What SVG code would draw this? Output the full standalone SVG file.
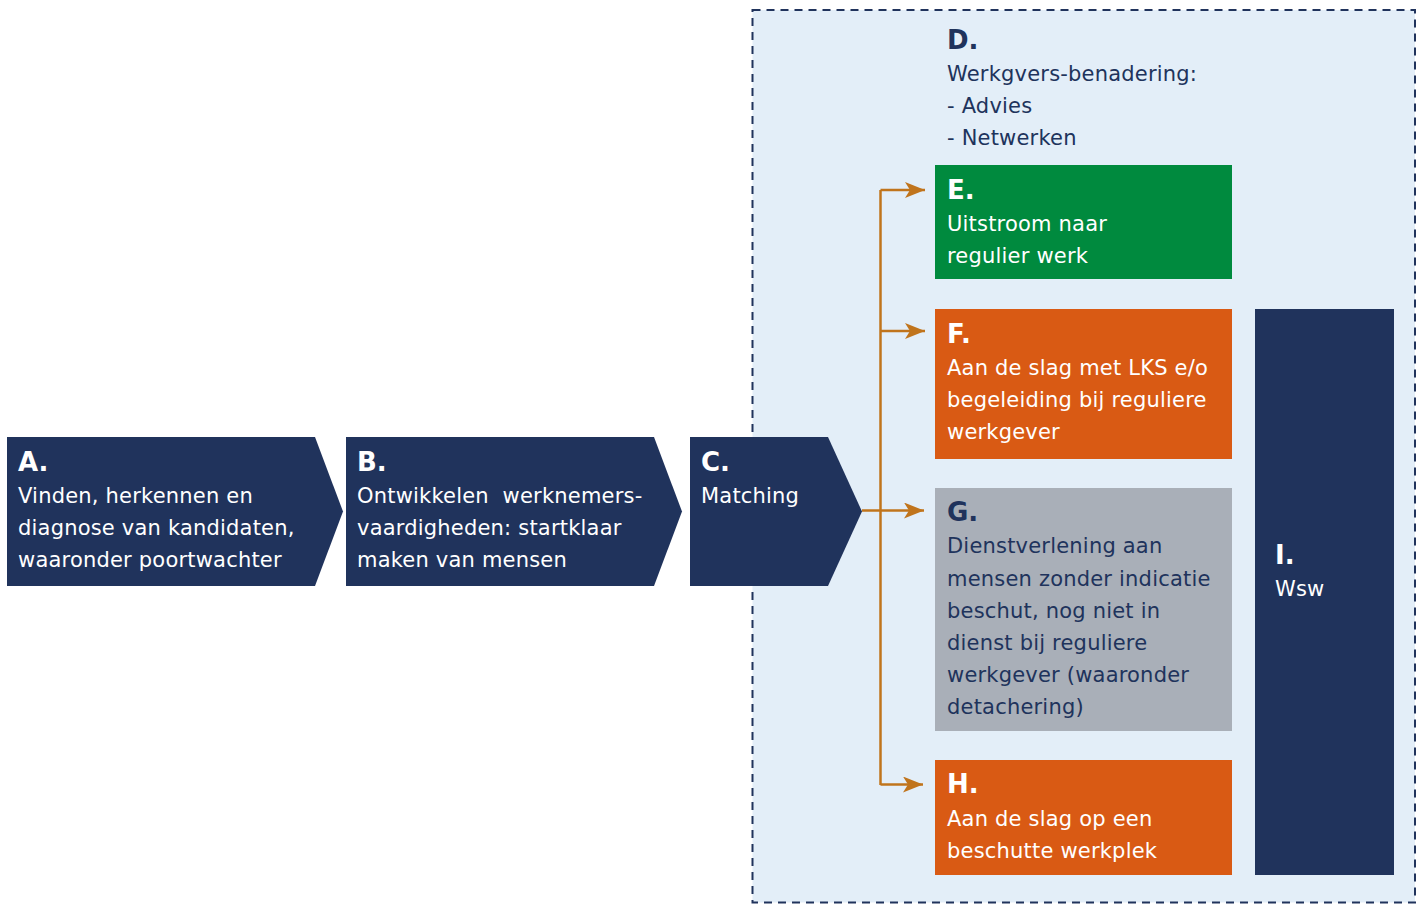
<svg xmlns="http://www.w3.org/2000/svg" width="1422" height="904" viewBox="0 0 1422 904">
<defs>
<style>
.t{font-family:"DejaVu Sans","Open Sans",sans-serif;font-size:21px;letter-spacing:0.2px;fill:#ffffff}
.h{font-family:"DejaVu Sans","Open Sans",sans-serif;font-size:26px;font-weight:bold;fill:#ffffff}
.n{fill:#20335c}
.con{fill:none;stroke:#c0741c;stroke-width:2.5}
</style>
<marker id="ah" viewBox="0 0 20 16" refX="20" refY="8" markerWidth="20" markerHeight="16" markerUnits="userSpaceOnUse" orient="auto">
<path d="M0,0 L20,8 L0,16 L5,8 Z" fill="#c0741c"/>
</marker>
</defs>
<rect width="1422" height="904" fill="#ffffff"/>
<g id="D">
<rect x="752.5" y="10" width="662.5" height="892.5" fill="#e3eef8" stroke="#20335c" stroke-width="2" stroke-dasharray="8,6"/>
<text class="h n" x="947" y="49">D.</text>
<text class="t n" x="947" y="81">Werkgvers-benadering:</text>
<text class="t n" x="947" y="113">- Advies</text>
<text class="t n" x="947" y="145">- Netwerken</text>
</g>
<g id="A">
<polygon points="7,437 315,437 343,511.5 315,586 7,586" fill="#20335c"/>
<text class="h" x="18" y="471">A.</text>
<text class="t" x="18" y="503">Vinden, herkennen en</text>
<text class="t" x="18" y="535">diagnose van kandidaten,</text>
<text class="t" x="18" y="567">waaronder poortwachter</text>
</g>
<g id="B">
<polygon points="346,437 654,437 682,511.5 654,586 346,586" fill="#20335c"/>
<text class="h" x="357" y="471">B.</text>
<text class="t" x="357" y="503" xml:space="preserve">Ontwikkelen  werknemers-</text>
<text class="t" x="357" y="535">vaardigheden: startklaar</text>
<text class="t" x="357" y="567">maken van mensen</text>
</g>
<g id="C">
<polygon points="690,437 828,437 862,511.5 828,586 690,586" fill="#20335c"/>
<text class="h" x="701" y="471">C.</text>
<text class="t" x="701" y="503">Matching</text>
</g>
<g id="connectors">
<path class="con" d="M880.5,785 L880.5,190"/>
<path class="con" d="M880.5,190 L925,190" marker-end="url(#ah)"/>
<path class="con" d="M880.5,331 L925,331" marker-end="url(#ah)"/>
<path class="con" d="M862,510.5 L924,510.5" marker-end="url(#ah)"/>
<path class="con" d="M880.5,784.5 L923,784.5" marker-end="url(#ah)"/>
</g>
<g id="E">
<rect x="935" y="165" width="297" height="114" fill="#008a3e"/>
<text class="h" x="947" y="199">E.</text>
<text class="t" x="947" y="231">Uitstroom naar</text>
<text class="t" x="947" y="263">regulier werk</text>
</g>
<g id="F">
<rect x="935" y="309" width="297" height="150" fill="#d95a14"/>
<text class="h" x="947" y="343">F.</text>
<text class="t" x="947" y="375">Aan de slag met LKS e/o</text>
<text class="t" x="947" y="407">begeleiding bij reguliere</text>
<text class="t" x="947" y="439">werkgever</text>
</g>
<g id="G">
<rect x="935" y="488" width="297" height="243" fill="#a9afb8"/>
<text class="h n" x="947" y="521">G.</text>
<text class="t n" x="947" y="553">Dienstverlening aan</text>
<text class="t n" x="947" y="586">mensen zonder indicatie</text>
<text class="t n" x="947" y="618">beschut, nog niet in</text>
<text class="t n" x="947" y="650">dienst bij reguliere</text>
<text class="t n" x="947" y="682">werkgever (waaronder</text>
<text class="t n" x="947" y="714">detachering)</text>
</g>
<g id="H">
<rect x="935" y="760" width="297" height="115" fill="#d95a14"/>
<text class="h" x="947" y="793">H.</text>
<text class="t" x="947" y="826">Aan de slag op een</text>
<text class="t" x="947" y="858">beschutte werkplek</text>
</g>
<g id="I">
<rect x="1255" y="309" width="139" height="566" fill="#20335c"/>
<text class="h" x="1275" y="564">I.</text>
<text class="t" x="1275" y="596">Wsw</text>
</g>
</svg>
